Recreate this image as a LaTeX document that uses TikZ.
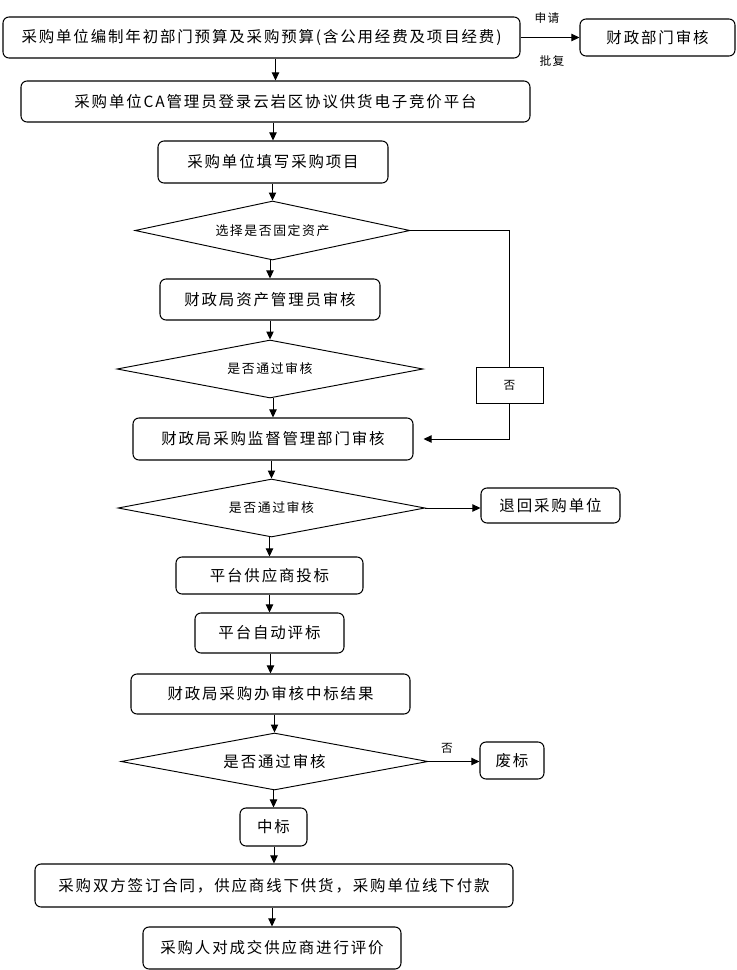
\documentclass[tikz,border=0pt]{standalone}
\usepackage{fontspec}
\setmainfont{Noto Sans CJK SC}[LetterSpace=12]
\usetikzlibrary{arrows.meta,shapes.geometric}
\newdimen\px \px=0.03cm

\begin{document}
\begin{tikzpicture}[x=0.03cm,y=-0.03cm,
		box/.style={draw,rounded corners=1.8mm,line width=0.9pt,inner sep=0pt,font=\fontsize{13.2pt}{15pt}\selectfont},
		decision/.style={draw,diamond,aspect=5,line width=0.8pt,inner sep=0pt,font=\fontsize{11pt}{13pt}\selectfont},
		plain/.style={draw,line width=0.8pt,inner sep=0pt,font=\fontsize{10pt}{12pt}\selectfont},
		note/.style={font=\fontsize{10pt}{12pt}\selectfont},
		line/.style={line width=0.8pt},
		arr/.style={line width=0.8pt,-{Triangle[length=2.4mm,width=2.2mm]}}]
		\useasboundingbox (0,0) rectangle (737,970);

		% top row: budget and the finance department
		\node[box,minimum width=517\px,minimum height=41\px] (budget) at (261.5,37.5) {采购单位编制年初部门预算及采购预算(含公用经费及项目经费)};
		\node[box,minimum width=155\px,minimum height=37\px] (finance) at (657.5,37.5) {财政部门审核};
		\node[note] (apply) at (547,18) {申请};
		\node[note] (reply) at (552,61) {批复};
		\draw[arr] (budget.east) -- (finance.west);

		\node[box,minimum width=509\px,minimum height=41\px] (login) at (275.5,101.5) {采购单位CA管理员登录云岩区协议供货电子竞价平台};
		\node[box,minimum width=230\px,minimum height=42\px] (fill) at (273,162) {采购单位填写采购项目};
		\node[decision,minimum width=275\px,minimum height=59\px] (choose) at (272.5,230.5) {选择是否固定资产};
		\node[box,minimum width=220\px,minimum height=41\px] (asset) at (270,299.5) {财政局资产管理员审核};
		\node[decision,minimum width=306\px,minimum height=58\px] (pass1) at (270,369) {是否通过审核};
		\node[box,minimum width=280\px,minimum height=42\px] (supervise) at (273,439) {财政局采购监督管理部门审核};
		\node[plain,minimum width=67\px,minimum height=36\px] (nobox) at (509.5,385) {否};

		\node[decision,minimum width=307\px,minimum height=58\px] (pass2) at (271.5,508) {是否通过审核};
		\node[box,minimum width=139\px,minimum height=35\px] (back) at (550.5,505.5) {退回采购单位};
		\node[box,minimum width=187\px,minimum height=37\px] (bid) at (269.5,575.5) {平台供应商投标};
		\node[box,minimum width=149\px,minimum height=40\px] (auto) at (269.5,633) {平台自动评标};
		\node[box,minimum width=279\px,minimum height=40\px] (result) at (270.5,694) {财政局采购办审核中标结果};

		\node[decision,minimum width=307\px,minimum height=57\px,font=\fontsize{13.2pt}{15pt}\selectfont] (pass3) at (274.5,761.5) {是否通过审核};
		\node[box,minimum width=64\px,minimum height=37\px] (void) at (512,760.5) {废标};
		\node[note] (nolabel) at (447,748) {否};
		\node[box,minimum width=67\px,minimum height=38\px] (win) at (273.5,827) {中标};
		\node[box,minimum width=478\px,minimum height=43\px] (contract) at (274,885.5) {采购双方签订合同，供应商线下供货，采购单位线下付款};
		\node[box,minimum width=258\px,minimum height=42\px] (evaluate) at (272,948) {采购人对成交供应商进行评价};

		% main flow
		\draw[arr] (login.north |- budget.south) -- (login.north);
		\draw[arr] (fill.north |- login.south) -- (fill.north);
		\draw[arr] (choose.north |- fill.south) -- (choose.north);
		\draw[arr] (asset.north |- choose.south) -- (asset.north);
		\draw[arr] (pass1.north |- asset.south) -- (pass1.north);
		\draw[arr] (supervise.north |- pass1.south) -- (supervise.north);
		\draw[arr] (pass2.north |- supervise.south) -- (pass2.north);
		\draw[arr] (bid.north |- pass2.south) -- (bid.north);
		\draw[arr] (auto.north |- bid.south) -- (auto.north);
		\draw[arr] (result.north |- auto.south) -- (result.north);
		\draw[arr] (pass3.north |- result.south) -- (pass3.north);
		\draw[arr] (win.north |- pass3.south) -- (win.north);
		\draw[arr] (contract.north |- win.south) -- (contract.north);
		\draw[arr] (evaluate.north |- contract.south) -- (evaluate.north);

		% side branches
		\draw[line] (choose.east) -| (nobox.north);
		\draw[arr] (nobox.south) |- ([xshift=10\px]supervise.east);
		\draw[arr] (pass2.east) -- (pass2.east -| back.west);
		\draw[arr] (pass3.east) -- (pass3.east -| void.west);
	\end{tikzpicture}
\end{document}
